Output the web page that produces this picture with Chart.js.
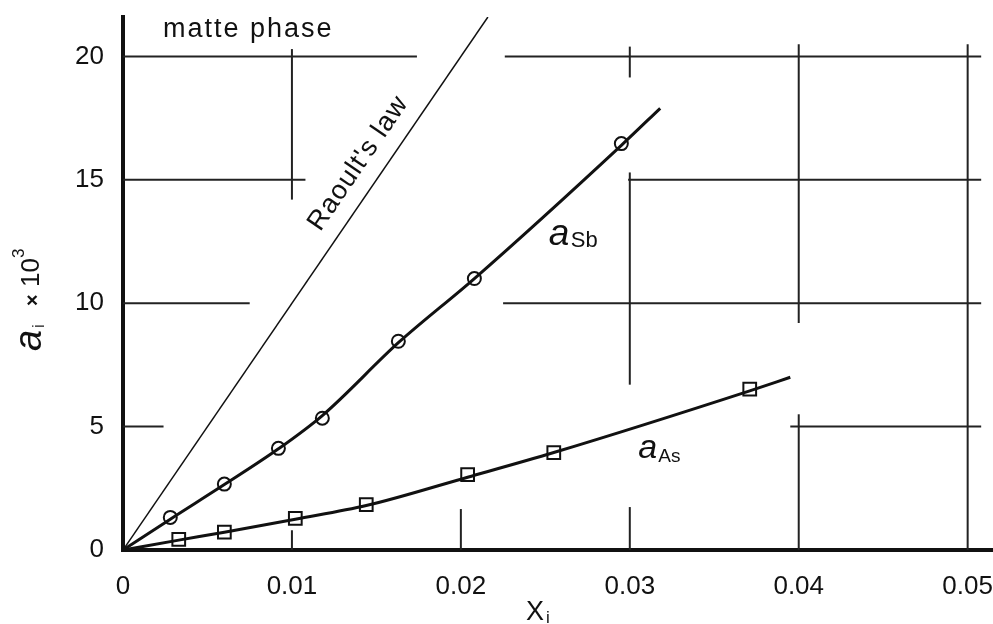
<!DOCTYPE html>
<html>
<head>
<meta charset="utf-8">
<script src="https://cdn.jsdelivr.net/npm/chart.js@4.4.1/dist/chart.umd.min.js"></script>
<style>
  html, body { margin: 0; padding: 0; background: #fff; overflow: hidden; }
  #wrap { position: relative; width: 993px; height: 624px; }
  #chart { display: block; }
</style>
</head>
<body>
<div id="wrap"><canvas id="chart"></canvas></div>
<script>
// ================= DATA =================
const xTicks = [0, 0.01, 0.02, 0.03, 0.04, 0.05];
const yTicks = [0, 5, 10, 15, 20];

// measured points (a_i x 10^3 vs x_i)
const sbX = [0.0028, 0.0060, 0.0092, 0.0118, 0.0163, 0.0208, 0.0295];
const sbY = [1.32, 2.67, 4.12, 5.34, 8.46, 11.0, 16.47];
const asX = [0.0033, 0.0060, 0.0102, 0.0144, 0.0204, 0.0255, 0.0371];
const asY = [0.43, 0.72, 1.28, 1.84, 3.05, 3.95, 6.52];

// drawn curves through the origin
const sbCurveX = [0, 0.0028, 0.0060, 0.0092, 0.0118, 0.0163, 0.0208, 0.0295, 0.0318];
const sbCurveY = [0, 1.25, 2.65, 4.1, 5.45, 8.4, 11.0, 16.4, 17.9];
const asCurveX = [0, 0.0033, 0.0060, 0.0102, 0.0144, 0.0204, 0.0255, 0.0371, 0.0395];
const asCurveY = [0, 0.40, 0.72, 1.25, 1.80, 2.95, 3.95, 6.45, 7.0];

// Raoult's law: a_i = x_i
const raoultX = [0, 0.0216];
const raoultY = [0, 21.6];

// broken grid pieces of the original drawing (value space)
const hGrid = [ // [y, xFrom, xTo]
  [20, 0, 0.0174], [20, 0.0226, 0.0508],
  [15, 0, 0.0108], [15, 0.0299, 0.0508],
  [10, 0, 0.0075], [10, 0.0225, 0.0508],
  [5, 0, 0.0024], [5, 0.0395, 0.0508]
];
const vGrid = [ // [x, yFrom, yTo]
  [0.01, 14.2, 20.3], [0.01, 0, 0.8],
  [0.02, 0, 1.66],
  [0.03, 19.15, 20.4], [0.03, 6.7, 15.3], [0.03, 0, 1.74],
  [0.04, 9.2, 20.5], [0.04, 0, 5.5],
  [0.05, 0, 20.5]
];

const pts = (xs, ys) => xs.map((x, i) => ({ x, y: ys[i] }));

const FONT = "'Liberation Sans', Arial, sans-serif";
const INK = "#111";

// ================= PLUGIN: grid pieces + labels =================
const drawing = {
  id: "drawing",
  beforeDatasetsDraw(chart) {
    const { ctx, scales: { x, y } } = chart;
    ctx.save();
    ctx.strokeStyle = "#222";
    ctx.lineWidth = 2;
    hGrid.forEach(([v, a, b]) => {
      ctx.beginPath();
      ctx.moveTo(x.getPixelForValue(a), y.getPixelForValue(v));
      ctx.lineTo(x.getPixelForValue(b), y.getPixelForValue(v));
      ctx.stroke();
    });
    vGrid.forEach(([v, a, b]) => {
      ctx.beginPath();
      ctx.moveTo(x.getPixelForValue(v), y.getPixelForValue(a));
      ctx.lineTo(x.getPixelForValue(v), y.getPixelForValue(b));
      ctx.stroke();
    });
    ctx.restore();
  },
  afterDraw(chart) {
    const { ctx, scales: { x, y } } = chart;
    ctx.save();
    ctx.fillStyle = INK;
    ctx.textBaseline = "alphabetic";
    ctx.textAlign = "left";

    // matte phase
    ctx.font = `27px ${FONT}`;
    ctx.letterSpacing = "2px";
    ctx.fillText("matte phase", x.getPixelForValue(0.00237), y.getPixelForValue(20.8));

    // Raoult's law along the thin line
    ctx.save();
    ctx.translate(x.getPixelForValue(0.0143), y.getPixelForValue(15.5));
    ctx.rotate(-Math.atan2(532, 364));
    ctx.textAlign = "center";
    ctx.font = `27px ${FONT}`;
    ctx.letterSpacing = "1px";
    ctx.fillText("Raoult's law", 0, 0);
    ctx.restore();
    ctx.letterSpacing = "0px";

    // a_Sb
    let px = x.getPixelForValue(0.0252), py = y.getPixelForValue(12.36);
    ctx.font = `italic 37px ${FONT}`;
    ctx.fillText("a", px, py);
    ctx.font = `22px ${FONT}`;
    ctx.fillText("Sb", px + 22, py + 2);

    // a_As
    px = x.getPixelForValue(0.0305); py = y.getPixelForValue(3.73);
    ctx.font = `italic 34px ${FONT}`;
    ctx.fillText("a", px, py);
    ctx.font = `19px ${FONT}`;
    ctx.fillText("As", px + 20, py + 4);

    // x title: X_i
    ctx.font = `27px ${FONT}`;
    ctx.fillText("X", 526, 620);
    ctx.font = `17px ${FONT}`;
    ctx.fillText("i", 546, 623);

    // y title: a_i x 10^3 (rotated)
    ctx.save();
    ctx.translate(41, 300);
    ctx.rotate(-Math.PI / 2);
    ctx.font = `italic 38px ${FONT}`;
    ctx.fillText("a", -51, 0);
    ctx.font = `17px ${FONT}`;
    ctx.fillText("i", -28, 3);
    ctx.font = `bold 20px ${FONT}`;
    ctx.fillText("×", -6, -2);
    ctx.font = `26px ${FONT}`;
    ctx.fillText("10", 13, -2);
    ctx.font = `17px ${FONT}`;
    ctx.fillText("3", 42, -17);
    ctx.restore();

    ctx.restore();
  }
};

// ================= CHART =================
const curve = (data, width) => ({
  type: "line",
  data,
  borderColor: INK,
  borderWidth: width,
  pointRadius: 0,
  cubicInterpolationMode: "monotone",
  fill: false
});

const marks = (data, style, radius) => ({
  type: "scatter",
  data,
  pointStyle: style,
  pointRadius: radius,
  pointBackgroundColor: "#fff",
  pointBorderColor: INK,
  pointBorderWidth: 2,
  showLine: false
});

// no label overhang: keep the plot box where the drawing has it
const noPad = s => { s.paddingTop = s.paddingBottom = s.paddingLeft = s.paddingRight = 0; };

new Chart(document.getElementById("chart"), {
  data: {
    datasets: [
      curve(pts(raoultX, raoultY), 1.5),
      curve(pts(sbCurveX, sbCurveY), 3),
      curve(pts(asCurveX, asCurveY), 3),
      marks(pts(sbX, sbY), "circle", 6.5),
      marks(pts(asX, asY), "rect", 9)
    ]
  },
  options: {
    responsive: true,
    maintainAspectRatio: false,
    animation: false,
    layout: { autoPadding: false, padding: { top: 17, right: 0, left: 0, bottom: 0 } },
    plugins: { legend: { display: false }, tooltip: { enabled: false } },
    scales: {
      x: {
        type: "linear",
        min: 0,
        max: 0.0515,
        afterBuildTicks: s => { s.ticks = xTicks.map(v => ({ value: v })); },
        afterFit: s => { s.height = 74; noPad(s); },
        grid: { display: false },
        border: { display: true, color: INK, width: 4 },
        ticks: {
          autoSkip: false,
          maxRotation: 0,
          padding: 13,
          color: INK,
          font: { family: FONT, size: 26 },
          callback: v => String(v)
        }
      },
      y: {
        type: "linear",
        min: 0,
        max: 21.6,
        afterBuildTicks: s => { s.ticks = yTicks.map(v => ({ value: v })); },
        afterFit: s => { s.width = 123; noPad(s); },
        grid: { display: false },
        border: { display: true, color: INK, width: 4 },
        ticks: {
          padding: 11,
          color: INK,
          font: { family: FONT, size: 26 },
          callback: v => String(v)
        }
      }
    }
  },
  plugins: [drawing]
});
</script>
</body>
</html>
